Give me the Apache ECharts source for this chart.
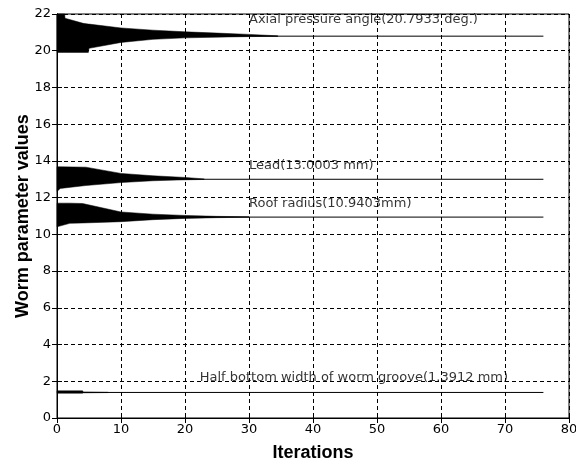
<!DOCTYPE html>
<html>
<head>
<meta charset="utf-8">
<script src="https://cdn.jsdelivr.net/npm/echarts@6/dist/echarts.min.js"></script>
<style>html,body{margin:0;padding:0;background:#fff}#c{width:576px;height:464px}</style>
</head>
<body>
<div id="c"></div>
<script>
// Envelope of each parameter's oscillation (upper / lower bounds) per iteration
var axialIter  = [0, 1.2, 1.25, 4.1, 4.9, 5.0, 10, 15, 20, 25, 30, 34.5];
var axialUpper = [22, 22, 21.77, 21.49, 21.45, 21.45, 21.24, 21.12, 21.03, 20.96, 20.89, 20.81];
var axialLower = [19.91, 19.91, 19.91, 19.91, 19.91, 20.13, 20.45, 20.62, 20.70, 20.74, 20.77, 20.78];

var leadIter  = [0, 0.5, 4.5, 10, 15, 20, 23];
var leadUpper = [13.68, 13.68, 13.66, 13.32, 13.19, 13.10, 13.02];
var leadLower = [12.33, 12.50, 12.66, 12.82, 12.92, 12.97, 12.99];

var rootIter  = [0, 2, 4, 10, 15, 20, 25, 30];
var rootUpper = [11.70, 11.70, 11.68, 11.22, 11.10, 11.03, 10.98, 10.96];
var rootLower = [10.41, 10.60, 10.62, 10.69, 10.80, 10.87, 10.91, 10.93];

var halfIter  = [0, 4, 4.1, 8];
var halfUpper = [1.48, 1.48, 1.42, 1.40];
var halfLower = [1.35, 1.35, 1.37, 1.385];

// Converged values and final iteration
var convergedValues = [20.7933, 13.0003, 10.9403, 1.3912];
var lastIteration = 76;

// Annotations: text and anchor in data units
var labelTexts = ['Axial pressure angle(20.7933 deg.)', 'Lead(13.0003 mm)', 'Roof radius(10.9403mm)', 'Half bottom width of worm groove(1.3912 mm)'];
var labelX = [30, 30, 30, 22.3];
var labelY = [21.68, 13.72, 11.65, 2.2];

var xTicks = {min: 0, max: 80, interval: 10};
var yTicks = {min: 0, max: 22, interval: 2};

var FONT = 'DejaVu Sans';
var BOLD = 'Liberation Sans';

function band(iters, upper, lower) {
  var rows = iters.map(function (x, i) { return [x, upper[i], lower[i]]; });
  return {
    type: 'custom', data: rows, silent: true, animation: false, z: 3,
    encode: {x: 0, y: [1, 2]},
    renderItem: function (params, api) {
      if (params.dataIndex !== 0) return null;
      var pts = [];
      for (var i = 0; i < rows.length; i++) pts.push(api.coord([rows[i][0], rows[i][1]]));
      for (var j = rows.length - 1; j >= 0; j--) pts.push(api.coord([rows[j][0], rows[j][2]]));
      return {type: 'polygon', shape: {points: pts}, style: {fill: '#000', stroke: '#000', lineWidth: 0.5}};
    }
  };
}

var series = [
  band(axialIter, axialUpper, axialLower),
  band(leadIter, leadUpper, leadLower),
  band(rootIter, rootUpper, rootLower),
  band(halfIter, halfUpper, halfLower)
];

convergedValues.forEach(function (v) {
  series.push({type: 'line', data: [[0, v], [lastIteration, v]], symbol: 'none',
    lineStyle: {color: '#000', width: 1}, animation: false, silent: true, z: 4});
});

series.push({
  type: 'scatter', symbolSize: 0, animation: false, silent: true, z: 5,
  data: labelTexts.map(function (t, i) { return {value: [labelX[i], labelY[i]], name: t}; }),
  label: {show: true, position: 'right', distance: 0, formatter: '{b}',
    color: '#000', fontFamily: FONT, fontSize: 13, align: 'left', verticalAlign: 'middle'}
});

var axisCommon = {
  axisLine: {show: true, lineStyle: {color: '#000', width: 1}},
  axisTick: {show: true, inside: true, length: 5, lineStyle: {color: '#000'}},
  splitLine: {show: true, lineStyle: {color: '#000', type: [4, 3], width: 1}}
};

var chart = echarts.init(document.getElementById('c'), null, {renderer: 'canvas'});
chart.setOption({
  backgroundColor: '#fff',
  animation: false,
  grid: {left: 57, right: 7, top: 14, bottom: 46, show: true, borderColor: '#000', borderWidth: 1,
    backgroundColor: 'transparent', containLabel: false, outerBoundsMode: 'none'},
  xAxis: [
    Object.assign({type: 'value', min: xTicks.min, max: xTicks.max, interval: xTicks.interval,
      name: 'Iterations', nameLocation: 'middle', nameGap: 26, nameMoveOverlap: false,
      nameTextStyle: {fontFamily: BOLD, fontSize: 18, fontWeight: 'bold', color: '#000'},
      axisLabel: {fontFamily: FONT, fontSize: 13, color: '#000', margin: 5}}, axisCommon),
    {type: 'value', position: 'top', min: xTicks.min, max: xTicks.max, interval: xTicks.interval,
      axisLine: {show: true, lineStyle: {color: '#000'}}, axisTick: {show: true, inside: true, length: 5, lineStyle: {color: '#000'}},
      axisLabel: {show: false}, splitLine: {show: false}}
  ],
  yAxis: [
    Object.assign({type: 'value', min: yTicks.min, max: yTicks.max, interval: yTicks.interval,
      name: 'Worm parameter values', nameLocation: 'middle', nameGap: 25, nameRotate: 90, nameMoveOverlap: false,
      nameTextStyle: {fontFamily: BOLD, fontSize: 18, fontWeight: 'bold', color: '#000'},
      axisLabel: {fontFamily: FONT, fontSize: 13, color: '#000', margin: 6}}, axisCommon),
    {type: 'value', position: 'right', min: yTicks.min, max: yTicks.max, interval: yTicks.interval,
      axisLine: {show: true, lineStyle: {color: '#000'}}, axisTick: {show: true, inside: true, length: 5, lineStyle: {color: '#000'}},
      axisLabel: {show: false}, splitLine: {show: false}}
  ],
  series: series
});
</script>
</body>
</html>
